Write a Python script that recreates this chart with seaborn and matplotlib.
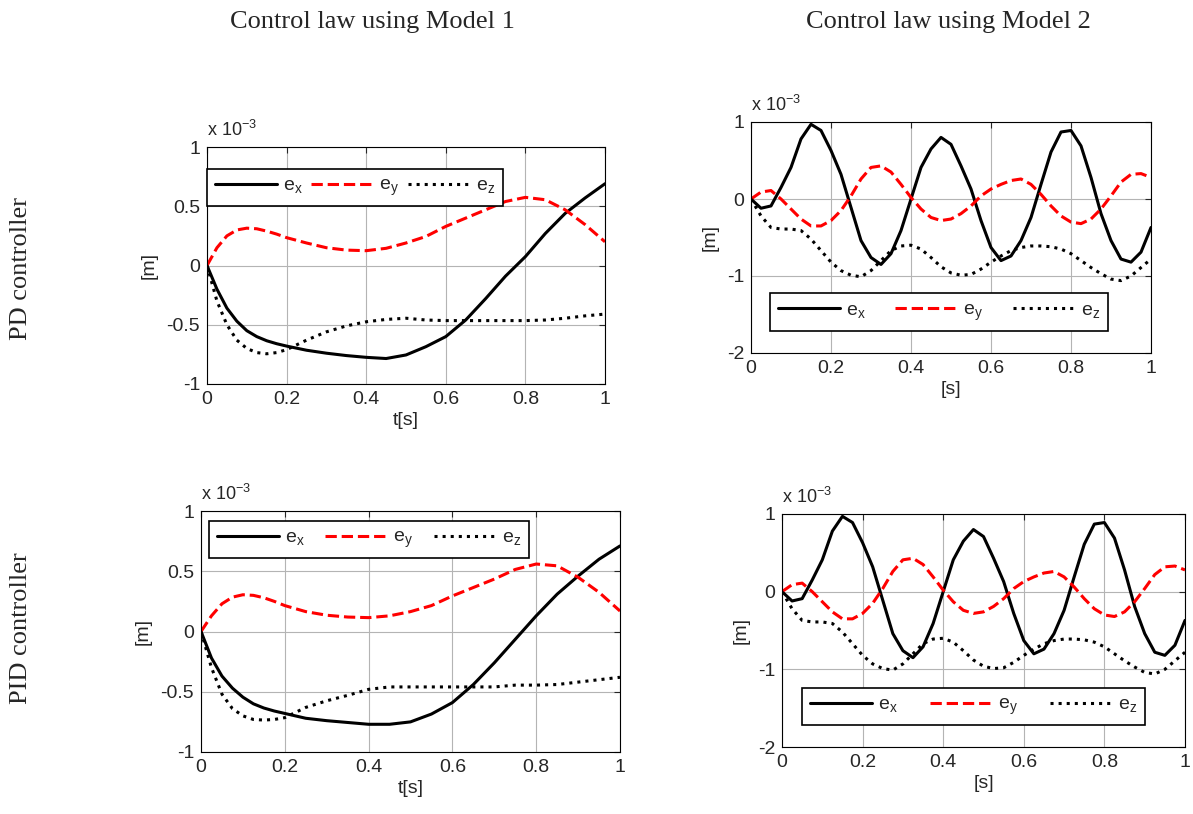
import numpy as np
import seaborn as sns
import matplotlib.pyplot as plt

# values in units of 1e-3 m
t1 = [0, 0.025, 0.05, 0.075, 0.1, 0.125, 0.15, 0.175, 0.2, 0.25, 0.3, 0.35, 0.4, 0.45,
      0.5, 0.55, 0.6, 0.65, 0.7, 0.75, 0.8, 0.85, 0.9, 0.95, 1.0]

pd1_ex = [0, -0.2, -0.36, -0.47, -0.55, -0.6, -0.635, -0.66, -0.68, -0.715, -0.74, -0.76,
          -0.775, -0.785, -0.755, -0.685, -0.6, -0.46, -0.28, -0.09, 0.075, 0.27, 0.44, 0.57, 0.69]
pd1_ey = [0, 0.15, 0.25, 0.3, 0.315, 0.31, 0.29, 0.265, 0.235, 0.19, 0.15, 0.13,
          0.125, 0.145, 0.19, 0.245, 0.33, 0.4, 0.47, 0.54, 0.575, 0.555, 0.47, 0.345, 0.2]
pd1_ez = [0, -0.3, -0.5, -0.63, -0.7, -0.735, -0.745, -0.735, -0.71, -0.63, -0.56, -0.51,
          -0.475, -0.455, -0.445, -0.46, -0.465, -0.465, -0.465, -0.465, -0.465, -0.46,
          -0.445, -0.425, -0.41]

pid1_ex = [0, -0.22, -0.37, -0.47, -0.545, -0.6, -0.635, -0.66, -0.68, -0.72, -0.74, -0.755,
           -0.77, -0.77, -0.75, -0.685, -0.59, -0.44, -0.26, -0.065, 0.13, 0.31, 0.46, 0.6, 0.71]
pid1_ey = [0, 0.13, 0.23, 0.285, 0.305, 0.3, 0.28, 0.25, 0.215, 0.165, 0.135, 0.12,
           0.115, 0.13, 0.165, 0.215, 0.295, 0.365, 0.435, 0.515, 0.56, 0.545, 0.45, 0.325, 0.17]
pid1_ez = [0, -0.3, -0.52, -0.64, -0.7, -0.73, -0.735, -0.73, -0.715, -0.63, -0.575, -0.53,
           -0.48, -0.46, -0.46, -0.46, -0.46, -0.46, -0.46, -0.445, -0.445, -0.44, -0.42, -0.4, -0.38]

t2 = [0, 0.025, 0.05, 0.075, 0.1, 0.125, 0.15, 0.175, 0.2, 0.225, 0.25, 0.275, 0.3, 0.325,
      0.35, 0.375, 0.4, 0.425, 0.45, 0.475, 0.5, 0.525, 0.55, 0.575, 0.6, 0.625, 0.65,
      0.675, 0.7, 0.725, 0.75, 0.775, 0.8, 0.825, 0.85, 0.875, 0.9, 0.925, 0.95, 0.975, 1.0]

m2_ex = [0, -0.12, -0.09, 0.15, 0.41, 0.78, 0.97, 0.89, 0.63, 0.32, -0.11, -0.54, -0.76, -0.85,
         -0.71, -0.41, 0.0, 0.41, 0.65, 0.8, 0.71, 0.43, 0.13, -0.28, -0.63, -0.8, -0.74,
         -0.54, -0.24, 0.19, 0.61, 0.87, 0.89, 0.69, 0.28, -0.19, -0.54, -0.78, -0.82, -0.69, -0.37]
m2_ey = [0, 0.09, 0.11, 0.0, -0.13, -0.26, -0.35, -0.35, -0.28, -0.15, 0.04, 0.26, 0.41, 0.43,
         0.35, 0.19, 0.02, -0.13, -0.24, -0.28, -0.26, -0.19, -0.09, 0.04, 0.13, 0.19, 0.24,
         0.26, 0.19, 0.06, -0.09, -0.22, -0.3, -0.32, -0.26, -0.13, 0.04, 0.22, 0.32, 0.33, 0.28]
m2_ez = [0, -0.22, -0.37, -0.39, -0.39, -0.41, -0.52, -0.67, -0.82, -0.93, -0.99, -1.01, -0.93, -0.8,
         -0.67, -0.61, -0.6, -0.65, -0.76, -0.88, -0.96, -0.99, -0.98, -0.91, -0.82, -0.74, -0.67,
         -0.63, -0.61, -0.61, -0.62, -0.65, -0.71, -0.8, -0.89, -0.97, -1.04, -1.06, -1.0, -0.89, -0.78]

col_titles = ['Control law using Model 1', 'Control law using Model 2']
row_titles = ['PD controller', 'PID controller']
labels = [r'$\mathregular{e_x}$', r'$\mathregular{e_y}$', r'$\mathregular{e_z}$']

sns.set_theme(style='white')
plt.rcParams['font.family'] = ['Liberation Sans', 'DejaVu Sans']
plt.rcParams['xtick.direction'] = 'in'
plt.rcParams['ytick.direction'] = 'in'

fig = plt.figure(figsize=(11.93, 8.14), dpi=100)
W, H = 1193, 814


def make_axes(x0, x1, y0, y1):
    return fig.add_axes([x0 / W, 1 - y1 / H, (x1 - x0) / W, (y1 - y0) / H])


panels = [
    # pixel box, t, series, ylim, yticks, xlabel, legend box (axes fraction)
    ((207, 605, 147, 384), t1, (pd1_ex, pd1_ey, pd1_ez), (-1, 1), [-1, -0.5, 0, 0.5, 1], 't[s]',
     (0.0, 0.738, 0.744, 0.182)),
    ((751, 1151, 122, 353), t2, (m2_ex, m2_ey, m2_ez), (-2, 1), [-2, -1, 0, 1], '[s]',
     (0.0475, 0.069, 0.845, 0.217)),
    ((201, 620, 511, 752), t1, (pid1_ex, pid1_ey, pid1_ez), (-1, 1), [-1, -0.5, 0, 0.5, 1], 't[s]',
     (0.019, 0.78, 0.764, 0.203)),
    ((782, 1185, 514, 747), t2, (m2_ex, m2_ey, m2_ez), (-2, 1), [-2, -1, 0, 1], '[s]',
     (0.0496, 0.064, 0.85, 0.219)),
]

styles = [dict(color='black', linestyle='-'),
          dict(color='red', linestyle='--'),
          dict(color='black', linestyle=':')]

for box, t, series, ylim, yticks, xlabel, lbox in panels:
    ax = make_axes(*box)
    for vals, st, lab in zip(series, styles, labels):
        sns.lineplot(x=t, y=vals, ax=ax, lw=2.2, label=lab, **st)
    ax.set_xlim(0, 1)
    ax.set_ylim(*ylim)
    ax.set_xticks([0, 0.2, 0.4, 0.6, 0.8, 1])
    ax.set_xticklabels(['0', '0.2', '0.4', '0.6', '0.8', '1'])
    ax.set_yticks(yticks)
    ax.set_yticklabels(['%g' % v for v in yticks])
    ax.tick_params(labelsize=14, top=True, right=True, length=4, width=0.8, pad=5)
    ax.grid(True, color='#b4b4b4', lw=0.8)
    for s in ax.spines.values():
        s.set_color('black')
        s.set_linewidth(0.8)
    ax.set_xlabel(xlabel, fontsize=14, labelpad=3)
    ax.set_ylabel('[m]', fontsize=14, labelpad=6)
    ax.text(0, 1.03, r'x 10$^{\mathregular{-3}}$', transform=ax.transAxes, fontsize=13,
            ha='left', va='bottom')
    ax.legend(loc='center', bbox_to_anchor=lbox, mode='expand', ncol=3, fontsize=14,
              handlelength=3.2, frameon=True, fancybox=False, edgecolor='black',
              framealpha=1, borderaxespad=0, columnspacing=0.4, handletextpad=0.3)
    ax.get_legend().get_frame().set_linewidth(1.2)

fig.text(372 / W, 1 - 28 / H, col_titles[0], family='Liberation Serif', fontsize=19,
         ha='center', va='baseline')
fig.text(948 / W, 1 - 28 / H, col_titles[1], family='Liberation Serif', fontsize=19,
         ha='center', va='baseline')
fig.text(21 / W, 1 - 269 / H, row_titles[0], family='Liberation Serif', fontsize=19,
         ha='center', va='center', rotation=90)
fig.text(21 / W, 1 - 628 / H, row_titles[1], family='Liberation Serif', fontsize=19,
         ha='center', va='center', rotation=90)

fig.savefig('out.png', dpi=100)
